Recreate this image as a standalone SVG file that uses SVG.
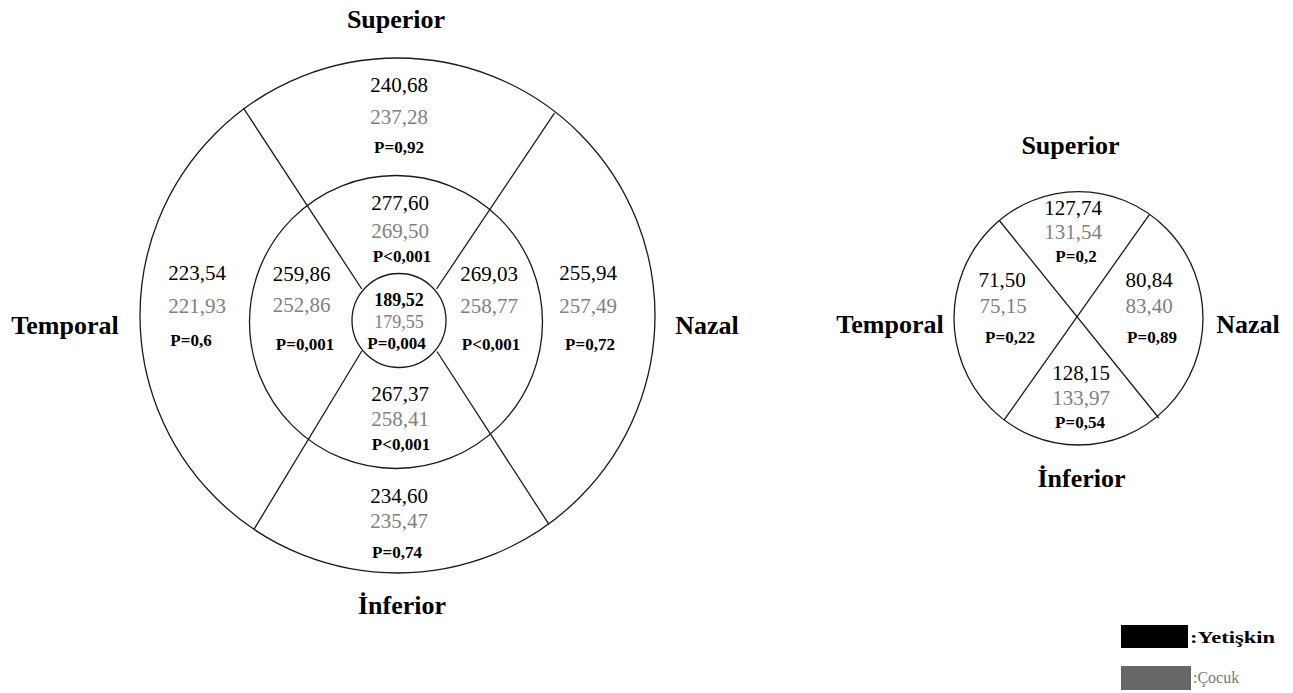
<svg xmlns="http://www.w3.org/2000/svg" width="1293" height="693" viewBox="0 0 1293 693">
<style>
text{font-family:"Liberation Serif","Times New Roman",serif;text-anchor:middle}
.n{font-size:21px;fill:#000}
.g{font-size:21px;fill:#808080}
.p{font-size:17px;font-weight:bold;fill:#000}
.lbl{font-size:26px;font-weight:bold;fill:#000}
.ring{fill:none;stroke:#1a1a1a;stroke-width:1.3}
</style>
<rect width="1293" height="693" fill="#fff"/>
<g id="left-map">
  <circle class="ring" cx="397.5" cy="315.5" r="257.5"/>
  <circle class="ring" cx="396" cy="322" r="146.5"/>
  <circle class="ring" cx="399" cy="320.5" r="47"/>
</g>
<g id="connectors">
  <line class="ring" x1="243.5" y1="108.2" x2="361.8" y2="289"/>
  <line class="ring" x1="554.6" y1="112.9" x2="436.5" y2="289"/>
  <line class="ring" x1="253.8" y1="529.6" x2="361.8" y2="351"/>
  <line class="ring" x1="548.9" y1="524.3" x2="437" y2="351.5"/>
  <line class="ring" x1="999.3" y1="220.5" x2="1158.8" y2="418"/>
  <line class="ring" x1="1149.5" y1="214.3" x2="1004" y2="420.2"/>
</g>
<g id="left-labels">
  <text class="lbl" x="396" y="28">Superior</text>
  <text class="lbl" x="65" y="334">Temporal</text>
  <text class="lbl" x="707" y="334">Nazal</text>
  <text class="lbl" x="402" y="614">İnferior</text>
</g>
<g id="left-superior-outer">
  <text class="n" x="399" y="92">240,68</text>
  <text class="g" x="399" y="124">237,28</text>
  <text class="p" x="399" y="152.5">P=0,92</text>
</g>
<g id="left-superior-inner">
  <text class="n" x="400" y="210">277,60</text>
  <text class="g" x="400" y="238">269,50</text>
  <text class="p" x="402" y="261.5">P&lt;0,001</text>
</g>
<g id="left-temporal-outer">
  <text class="n" x="197" y="280">223,54</text>
  <text class="g" x="197" y="313">221,93</text>
  <text class="p" x="191" y="346">P=0,6</text>
</g>
<g id="left-temporal-inner">
  <text class="n" x="301.5" y="281">259,86</text>
  <text class="g" x="301.5" y="312">252,86</text>
  <text class="p" x="305" y="350">P=0,001</text>
</g>
<g id="left-center">
  <text class="p" x="399" y="306" style="font-size:18px">189,52</text>
  <text class="g" x="399" y="327.5" style="font-size:18px">179,55</text>
  <text class="p" x="396.5" y="349">P=0,004</text>
</g>
<g id="left-nasal-inner">
  <text class="n" x="489" y="281">269,03</text>
  <text class="g" x="489" y="313">258,77</text>
  <text class="p" x="491" y="350">P&lt;0,001</text>
</g>
<g id="left-nasal-outer">
  <text class="n" x="588" y="279.5">255,94</text>
  <text class="g" x="588" y="313">257,49</text>
  <text class="p" x="590" y="350">P=0,72</text>
</g>
<g id="left-inferior-inner">
  <text class="n" x="400" y="401">267,37</text>
  <text class="g" x="400" y="426">258,41</text>
  <text class="p" x="401" y="449.5">P&lt;0,001</text>
</g>
<g id="left-inferior-outer">
  <text class="n" x="399" y="503">234,60</text>
  <text class="g" x="399" y="528">235,47</text>
  <text class="p" x="397" y="558">P=0,74</text>
</g>
<g id="right-map">
  <ellipse class="ring" cx="1078.5" cy="318.3" rx="124.5" ry="126.7"/>
</g>
<g id="right-labels">
  <text class="lbl" x="1070.5" y="154">Superior</text>
  <text class="lbl" x="890" y="333">Temporal</text>
  <text class="lbl" x="1248" y="333">Nazal</text>
  <text class="lbl" x="1081.5" y="487">İnferior</text>
</g>
<g id="right-superior">
  <text class="n" x="1073" y="215">127,74</text>
  <text class="g" x="1073" y="238.5">131,54</text>
  <text class="p" x="1076" y="262">P=0,2</text>
</g>
<g id="right-temporal">
  <text class="n" x="1002" y="287">71,50</text>
  <text class="g" x="1003" y="313">75,15</text>
  <text class="p" x="1010" y="343">P=0,22</text>
</g>
<g id="right-nasal">
  <text class="n" x="1149" y="287">80,84</text>
  <text class="g" x="1149" y="313">83,40</text>
  <text class="p" x="1152" y="343">P=0,89</text>
</g>
<g id="right-inferior">
  <text class="n" x="1081" y="380">128,15</text>
  <text class="g" x="1081" y="405">133,97</text>
  <text class="p" x="1080" y="428">P=0,54</text>
</g>
<g id="legend">
  <rect x="1121" y="625" width="67" height="23" fill="#000"/>
  <text x="1190" y="643" style="text-anchor:start;font-size:17px;font-weight:bold" textLength="85" lengthAdjust="spacingAndGlyphs">:Yetişkin</text>
  <rect x="1121" y="666" width="70" height="24" fill="#666"/>
  <text x="1193" y="683" style="text-anchor:start;font-size:16px;fill:#777">:Çocuk</text>
</g>
</svg>
